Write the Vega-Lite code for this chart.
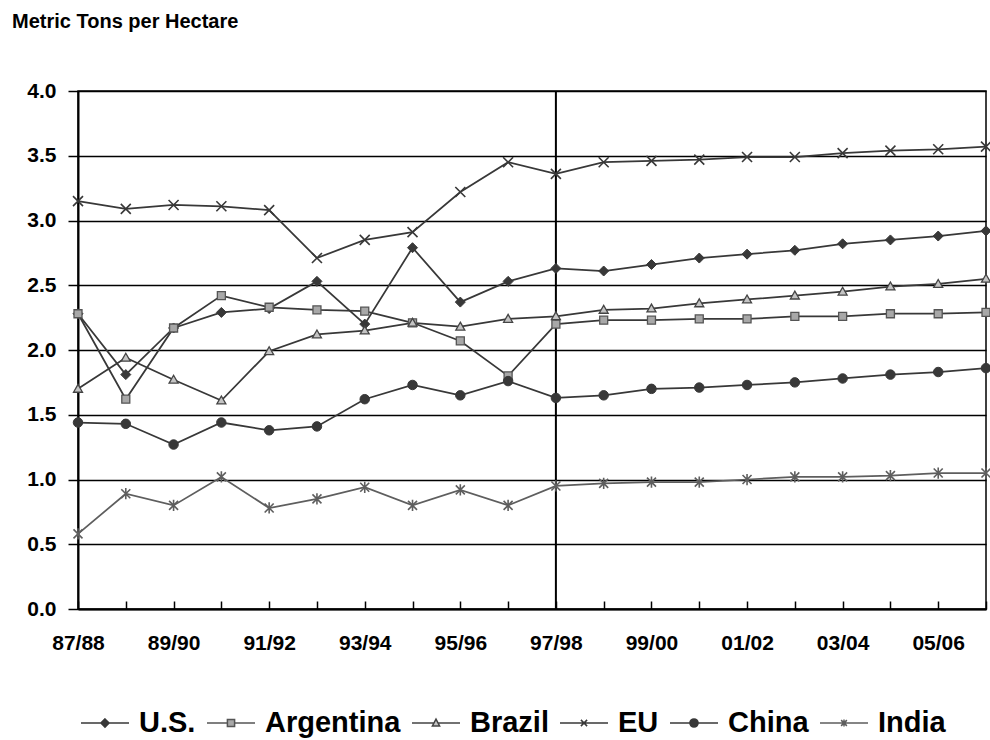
{
  "$schema": "https://vega.github.io/schema/vega-lite/v6.json",
  "width": 908,
  "height": 518,
  "autosize": {"type": "none"},
  "padding": {"left": 78, "top": 91, "right": 4, "bottom": 131},
  "background": "white",
  "config": {
    "font": "Liberation Sans",
    "view": {"stroke": "black", "strokeWidth": 1.5},
    "axis": {"labelFont": "Liberation Sans", "labelFontWeight": "bold", "labelColor": "black", "domainColor": "black", "tickColor": "black", "gridColor": "black"},
    "legend": {"direction": "horizontal", "columns": 6, "symbolSize": 2304, "symbolStrokeWidth": 1.5, "symbolOpacity": 1, "labelFontSize": 29, "labelFont": "Liberation Sans", "labelFontWeight": "bold", "labelColor": "black", "labelOffset": 9, "columnPadding": 8}
  },
  "title": {"text": "Metric Tons per Hectare", "anchor": "start", "frame": "group", "dx": -66, "offset": 48, "fontSize": 20, "fontWeight": "bold", "font": "Liberation Sans", "color": "black"},
  "data": {"values": [
    {"year": "87/88", "series": "U.S.", "value": 2.28}, {"year": "88/89", "series": "U.S.", "value": 1.81}, {"year": "89/90", "series": "U.S.", "value": 2.17}, {"year": "90/91", "series": "U.S.", "value": 2.29}, {"year": "91/92", "series": "U.S.", "value": 2.32}, {"year": "92/93", "series": "U.S.", "value": 2.53}, {"year": "93/94", "series": "U.S.", "value": 2.20}, {"year": "94/95", "series": "U.S.", "value": 2.79}, {"year": "95/96", "series": "U.S.", "value": 2.37}, {"year": "96/97", "series": "U.S.", "value": 2.53}, {"year": "97/98", "series": "U.S.", "value": 2.63}, {"year": "98/99", "series": "U.S.", "value": 2.61}, {"year": "99/00", "series": "U.S.", "value": 2.66}, {"year": "00/01", "series": "U.S.", "value": 2.71}, {"year": "01/02", "series": "U.S.", "value": 2.74}, {"year": "02/03", "series": "U.S.", "value": 2.77}, {"year": "03/04", "series": "U.S.", "value": 2.82}, {"year": "04/05", "series": "U.S.", "value": 2.85}, {"year": "05/06", "series": "U.S.", "value": 2.88}, {"year": "06/07", "series": "U.S.", "value": 2.92},
    {"year": "87/88", "series": "Argentina", "value": 2.28}, {"year": "88/89", "series": "Argentina", "value": 1.62}, {"year": "89/90", "series": "Argentina", "value": 2.17}, {"year": "90/91", "series": "Argentina", "value": 2.42}, {"year": "91/92", "series": "Argentina", "value": 2.33}, {"year": "92/93", "series": "Argentina", "value": 2.31}, {"year": "93/94", "series": "Argentina", "value": 2.30}, {"year": "94/95", "series": "Argentina", "value": 2.21}, {"year": "95/96", "series": "Argentina", "value": 2.07}, {"year": "96/97", "series": "Argentina", "value": 1.80}, {"year": "97/98", "series": "Argentina", "value": 2.20}, {"year": "98/99", "series": "Argentina", "value": 2.23}, {"year": "99/00", "series": "Argentina", "value": 2.23}, {"year": "00/01", "series": "Argentina", "value": 2.24}, {"year": "01/02", "series": "Argentina", "value": 2.24}, {"year": "02/03", "series": "Argentina", "value": 2.26}, {"year": "03/04", "series": "Argentina", "value": 2.26}, {"year": "04/05", "series": "Argentina", "value": 2.28}, {"year": "05/06", "series": "Argentina", "value": 2.28}, {"year": "06/07", "series": "Argentina", "value": 2.29},
    {"year": "87/88", "series": "Brazil", "value": 1.70}, {"year": "88/89", "series": "Brazil", "value": 1.94}, {"year": "89/90", "series": "Brazil", "value": 1.77}, {"year": "90/91", "series": "Brazil", "value": 1.61}, {"year": "91/92", "series": "Brazil", "value": 1.99}, {"year": "92/93", "series": "Brazil", "value": 2.12}, {"year": "93/94", "series": "Brazil", "value": 2.15}, {"year": "94/95", "series": "Brazil", "value": 2.21}, {"year": "95/96", "series": "Brazil", "value": 2.18}, {"year": "96/97", "series": "Brazil", "value": 2.24}, {"year": "97/98", "series": "Brazil", "value": 2.26}, {"year": "98/99", "series": "Brazil", "value": 2.31}, {"year": "99/00", "series": "Brazil", "value": 2.32}, {"year": "00/01", "series": "Brazil", "value": 2.36}, {"year": "01/02", "series": "Brazil", "value": 2.39}, {"year": "02/03", "series": "Brazil", "value": 2.42}, {"year": "03/04", "series": "Brazil", "value": 2.45}, {"year": "04/05", "series": "Brazil", "value": 2.49}, {"year": "05/06", "series": "Brazil", "value": 2.51}, {"year": "06/07", "series": "Brazil", "value": 2.55},
    {"year": "87/88", "series": "EU", "value": 3.15}, {"year": "88/89", "series": "EU", "value": 3.09}, {"year": "89/90", "series": "EU", "value": 3.12}, {"year": "90/91", "series": "EU", "value": 3.11}, {"year": "91/92", "series": "EU", "value": 3.08}, {"year": "92/93", "series": "EU", "value": 2.71}, {"year": "93/94", "series": "EU", "value": 2.85}, {"year": "94/95", "series": "EU", "value": 2.91}, {"year": "95/96", "series": "EU", "value": 3.22}, {"year": "96/97", "series": "EU", "value": 3.45}, {"year": "97/98", "series": "EU", "value": 3.36}, {"year": "98/99", "series": "EU", "value": 3.45}, {"year": "99/00", "series": "EU", "value": 3.46}, {"year": "00/01", "series": "EU", "value": 3.47}, {"year": "01/02", "series": "EU", "value": 3.49}, {"year": "02/03", "series": "EU", "value": 3.49}, {"year": "03/04", "series": "EU", "value": 3.52}, {"year": "04/05", "series": "EU", "value": 3.54}, {"year": "05/06", "series": "EU", "value": 3.55}, {"year": "06/07", "series": "EU", "value": 3.57},
    {"year": "87/88", "series": "China", "value": 1.44}, {"year": "88/89", "series": "China", "value": 1.43}, {"year": "89/90", "series": "China", "value": 1.27}, {"year": "90/91", "series": "China", "value": 1.44}, {"year": "91/92", "series": "China", "value": 1.38}, {"year": "92/93", "series": "China", "value": 1.41}, {"year": "93/94", "series": "China", "value": 1.62}, {"year": "94/95", "series": "China", "value": 1.73}, {"year": "95/96", "series": "China", "value": 1.65}, {"year": "96/97", "series": "China", "value": 1.76}, {"year": "97/98", "series": "China", "value": 1.63}, {"year": "98/99", "series": "China", "value": 1.65}, {"year": "99/00", "series": "China", "value": 1.70}, {"year": "00/01", "series": "China", "value": 1.71}, {"year": "01/02", "series": "China", "value": 1.73}, {"year": "02/03", "series": "China", "value": 1.75}, {"year": "03/04", "series": "China", "value": 1.78}, {"year": "04/05", "series": "China", "value": 1.81}, {"year": "05/06", "series": "China", "value": 1.83}, {"year": "06/07", "series": "China", "value": 1.86},
    {"year": "87/88", "series": "India", "value": 0.58}, {"year": "88/89", "series": "India", "value": 0.89}, {"year": "89/90", "series": "India", "value": 0.80}, {"year": "90/91", "series": "India", "value": 1.02}, {"year": "91/92", "series": "India", "value": 0.78}, {"year": "92/93", "series": "India", "value": 0.85}, {"year": "93/94", "series": "India", "value": 0.94}, {"year": "94/95", "series": "India", "value": 0.80}, {"year": "95/96", "series": "India", "value": 0.92}, {"year": "96/97", "series": "India", "value": 0.80}, {"year": "97/98", "series": "India", "value": 0.95}, {"year": "98/99", "series": "India", "value": 0.97}, {"year": "99/00", "series": "India", "value": 0.98}, {"year": "00/01", "series": "India", "value": 0.98}, {"year": "01/02", "series": "India", "value": 1.00}, {"year": "02/03", "series": "India", "value": 1.02}, {"year": "03/04", "series": "India", "value": 1.02}, {"year": "04/05", "series": "India", "value": 1.03}, {"year": "05/06", "series": "India", "value": 1.05}, {"year": "06/07", "series": "India", "value": 1.05}
  ]},
  "encoding": {
    "x": {"field": "year", "type": "ordinal", "sort": null,
      "scale": {"type": "point", "padding": 0, "domain": ["87/88", "88/89", "89/90", "90/91", "91/92", "92/93", "93/94", "94/95", "95/96", "96/97", "97/98", "98/99", "99/00", "00/01", "01/02", "02/03", "03/04", "04/05", "05/06", "06/07"]},
      "axis": {"title": null, "labelAngle": 0, "labelFontSize": 21, "labelPadding": 31, "tickSize": -8, "tickWidth": 1.5, "domainWidth": 2, "grid": false, "labelOverlap": false,
        "labelExpr": "toNumber(substring(datum.value, 0, 2)) % 2 === 1 ? datum.value : ''"}},
    "y": {"field": "value", "type": "quantitative", "scale": {"domain": [0, 4], "nice": false},
      "axis": {"title": null, "values": [0, 0.5, 1, 1.5, 2, 2.5, 3, 3.5, 4], "format": ".1f", "labelFontSize": 21, "labelPadding": 12, "tickSize": 10, "tickWidth": 1.5, "domainWidth": 2, "grid": true, "gridWidth": 1.5}}
  },
  "layer": [
    {"transform": [{"filter": "datum.year === '97/98' && datum.series === 'U.S.'"}],
     "mark": {"type": "rule", "color": "black", "strokeWidth": 2},
     "encoding": {"y": null}},
    {"transform": [{"filter": "datum.series !== 'India'"}],
     "mark": {"type": "line", "strokeWidth": 1.75, "stroke": "#383838"},
     "encoding": {"detail": {"field": "series"}}},
    {"transform": [{"filter": "datum.series === 'India'"}],
     "mark": {"type": "line", "strokeWidth": 1.75, "stroke": "#5e5e5e"},
     "encoding": {"detail": {"field": "series"}}},
    {"transform": [{"filter": "datum.series === 'U.S.'"}],
     "mark": {"type": "point", "shape": "diamond", "size": 100, "filled": true, "fill": "#383838", "stroke": "#383838", "strokeWidth": 1, "opacity": 1}},
    {"transform": [{"filter": "datum.series === 'Argentina'"}],
     "mark": {"type": "point", "shape": "square", "size": 64, "filled": true, "fill": "#a8a8a8", "stroke": "#555555", "strokeWidth": 1.3, "opacity": 1}},
    {"transform": [{"filter": "datum.series === 'Brazil'"}],
     "mark": {"type": "point", "shape": "M0,-1L1,0.75L-1,0.75Z", "size": 81, "filled": true, "fill": "#c4c4c4", "stroke": "#444444", "strokeWidth": 1.3, "opacity": 1}},
    {"transform": [{"filter": "datum.series === 'EU'"}],
     "mark": {"type": "point", "shape": "M-1,-1L1,1M-1,1L1,-1", "size": 100, "filled": false, "stroke": "#383838", "strokeWidth": 1.6, "opacity": 1}},
    {"transform": [{"filter": "datum.series === 'China'"}],
     "mark": {"type": "point", "shape": "circle", "size": 90, "filled": true, "fill": "#383838", "stroke": "#383838", "strokeWidth": 1, "opacity": 1}},
    {"transform": [{"filter": "datum.series === 'India'"}],
     "mark": {"type": "point", "shape": "M-1,-1L1,1M-1,1L1,-1M0,-1.25V1.25", "size": 81, "filled": false, "stroke": "#5e5e5e", "strokeWidth": 1.6, "opacity": 1}},
    {"mark": {"type": "point", "filled": true, "opacity": 0},
     "encoding": {
       "shape": {"field": "series", "type": "nominal",
         "scale": {"domain": ["U.S.", "Argentina", "Brazil", "EU", "China", "India"],
           "range": [
             "M-1,0H1M0,-0.17L0.17,0L0,0.17L-0.17,0Z",
             "M-1,0H-0.15M0.15,0H1M-0.15,-0.15H0.15V0.15H-0.15Z",
             "M-1,0H-0.09M0.09,0H1M0,-0.16L0.15,0.12L-0.15,0.12Z",
             "M-1,0H1M-0.13,-0.13L0.13,0.13M-0.13,0.13L0.13,-0.13",
             "M-1,0H1M-0.17,0A0.17,0.17 0 1,0 0.17,0A0.17,0.17 0 1,0 -0.17,0Z",
             "M-1,0H1M-0.12,-0.12L0.12,0.12M-0.12,0.12L0.12,-0.12M0,-0.15V0.15"
           ]},
         "legend": {"title": null, "orient": "none", "legendX": 2, "legendY": 607}},
       "fill": {"field": "series", "type": "nominal",
         "scale": {"domain": ["U.S.", "Argentina", "Brazil", "EU", "China", "India"], "range": ["#383838", "#a8a8a8", "#c4c4c4", "#383838", "#383838", "#5e5e5e"]},
         "legend": {"title": null, "orient": "none", "legendX": 2, "legendY": 607}},
       "stroke": {"field": "series", "type": "nominal",
         "scale": {"domain": ["U.S.", "Argentina", "Brazil", "EU", "China", "India"], "range": ["#383838", "#555555", "#444444", "#383838", "#383838", "#5e5e5e"]},
         "legend": {"title": null, "orient": "none", "legendX": 2, "legendY": 607}}
     }}
  ]
}
